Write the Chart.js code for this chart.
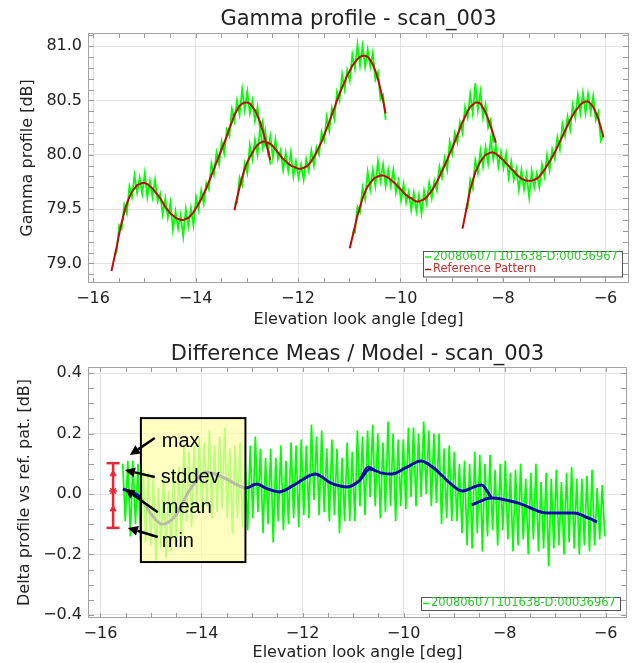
<!DOCTYPE html>
<html><head><meta charset="utf-8">
<script src="https://cdn.jsdelivr.net/npm/chart.js@4.4.1/dist/chart.umd.min.js"></script>
<style>
html,body{margin:0;padding:0;background:#fff;}
#w1{position:absolute;left:0;top:0;width:636px;height:330px;}
#w2{position:absolute;left:0;top:330px;width:636px;height:333px;}
canvas{display:block;}
</style></head><body>
<div id="w1"><canvas id="c1" width="636" height="330"></canvas></div>
<div id="w2"><canvas id="c2" width="636" height="333"></canvas></div>
<script>
// ---------------- DATA ----------------
const topTitle = 'Gamma profile - scan_003';
const botTitle = 'Difference Meas / Model - scan_003';
const xAxisTitle = 'Elevation look angle [deg]';
const topYTitle = 'Gamma profile [dB]';
const botYTitle = 'Delta profile vs ref. pat. [dB]';
const legendMeas = '20080607T101638-D:00036967';
const legendRef = 'Reference Pattern';

const xTicksDeg = [-16, -14, -12, -10, -8, -6];
const topYTicks = [79.0, 79.5, 80.0, 80.5, 81.0];
const botYTicks = [-0.4, -0.2, 0.0, 0.2, 0.4];

const sampleStep = 0.05;      // top-chart sample spacing [deg]
const measStartTop = [-15.59, -13.24, -10.94, -8.74];
const refStartTop  = [-15.64, -13.24, -10.99, -8.79];

const refPattern1 = [78.93,79.04,79.15,79.27,79.38,79.47,79.55,79.61,79.66,79.69,79.72,79.73,79.74,79.74,79.73,79.71,79.69,79.66,79.63,79.60,79.56,79.52,79.49,79.46,79.44,79.42,79.41,79.40,79.40,79.41,79.42,79.44,79.47,79.51,79.55,79.59,79.64,79.69,79.75,79.81,79.87,79.93,79.99,80.05,80.11,80.17,80.24,80.30,80.37,80.41,80.45,80.47,80.48,80.48,80.47,80.44,80.41,80.36,80.30,80.22,80.14,80.05,79.95];
const refPattern2 = [79.49,79.60,79.70,79.79,79.87,79.93,79.98,80.02,80.06,80.09,80.11,80.12,80.12,80.11,80.10,80.08,80.05,80.02,79.99,79.96,79.94,79.92,79.90,79.89,79.88,79.87,79.87,79.88,79.89,79.91,79.94,79.98,80.02,80.07,80.12,80.18,80.24,80.30,80.37,80.43,80.50,80.56,80.62,80.67,80.73,80.77,80.82,80.85,80.88,80.90,80.91,80.91,80.90,80.87,80.83,80.77,80.70,80.60,80.50,80.38];
const refPattern3 = [79.14,79.24,79.34,79.44,79.52,79.60,79.66,79.71,79.74,79.77,79.79,79.80,79.81,79.81,79.80,79.79,79.77,79.75,79.73,79.70,79.68,79.65,79.63,79.61,79.60,79.58,79.57,79.57,79.58,79.59,79.61,79.64,79.67,79.71,79.75,79.80,79.85,79.90,79.95,80.01,80.06,80.12,80.18,80.24,80.30,80.35,80.40,80.44,80.46,80.48,80.48,80.47,80.43,80.39,80.33,80.26,80.19,80.11];
const refPattern4 = [79.32,79.44,79.56,79.68,79.76,79.84,79.89,79.94,79.97,80.00,80.01,80.02,80.02,80.01,79.99,79.97,79.95,79.92,79.90,79.87,79.85,79.82,79.80,79.78,79.77,79.76,79.76,79.76,79.77,79.78,79.80,79.83,79.86,79.90,79.94,79.98,80.02,80.07,80.12,80.17,80.22,80.27,80.32,80.36,80.40,80.43,80.46,80.48,80.49,80.49,80.47,80.44,80.39,80.33,80.25,80.16];

const meas1 = [79.08,79.10,79.35,79.32,79.54,79.46,79.71,79.61,79.81,79.65,79.79,79.64,79.83,79.61,79.76,79.61,79.77,79.57,79.64,79.45,79.60,79.42,79.56,79.31,79.48,79.32,79.45,79.25,79.50,79.34,79.51,79.35,79.61,79.49,79.67,79.55,79.74,79.68,79.92,79.82,80.02,79.91,80.12,80.01,80.23,80.17,80.42,80.31,80.50,80.37,80.60,80.41,80.58,80.38,80.50,80.31,80.44,80.23,80.31,80.08,80.10,79.91];
const meas2 = [79.55,79.56,79.79,79.72,79.92,79.83,80.09,79.96,80.14,80.00,80.25,80.07,80.22,80.03,80.17,79.97,80.14,79.96,80.04,79.86,80.02,79.85,80.02,79.80,79.94,79.79,79.91,79.77,79.96,79.85,80.04,79.90,80.07,80.00,80.21,80.13,80.35,80.22,80.43,80.33,80.58,80.50,80.74,80.60,80.78,80.68,80.92,80.79,81.01,80.82,81.00,80.81,80.97,80.81,80.94,80.69,80.76,80.51,80.55,80.32];
const meas3 = [79.29,79.28,79.52,79.47,79.70,79.59,79.84,79.68,79.86,79.71,79.94,79.76,79.91,79.71,79.86,79.71,79.86,79.65,79.76,79.58,79.73,79.56,79.66,79.49,79.65,79.48,79.63,79.46,79.67,79.55,79.74,79.60,79.76,79.67,79.89,79.79,79.97,79.86,80.12,80.01,80.20,80.11,80.30,80.20,80.44,80.34,80.56,80.38,80.66,80.41,80.58,80.34,80.46,80.25,80.32,80.12,80.15];
const meas4 = [79.50,79.51,79.77,79.69,79.95,79.83,80.04,79.89,80.07,79.92,80.14,79.96,80.09,79.89,80.03,79.88,80.01,79.79,79.94,79.77,79.87,79.68,79.86,79.68,79.82,79.61,79.85,79.70,79.83,79.70,79.91,79.80,80.00,79.86,80.05,79.96,80.16,80.05,80.28,80.17,80.35,80.23,80.46,80.34,80.55,80.38,80.57,80.38,80.56,80.39,80.54,80.32,80.39,80.13,80.19];

// bottom chart: delta (measurement - reference)
const deltaStart = -15.56;
const deltaStep = 0.0505;
const deltaMeas = [
 0.10,-0.09,0.11,-0.14,0.11,-0.10,0.10,-0.16,0.08,-0.16,
 0.07,-0.17,0.06,-0.22,0.02,-0.18,0.06,-0.21,0.01,-0.19,
 0.08,-0.16,0.09,-0.15,0.16,-0.09,0.14,-0.11,0.16,-0.04,
 0.19,-0.06,0.17,-0.04,0.21,-0.08,0.16,-0.06,0.19,-0.05,
 0.22,-0.08,0.15,-0.13,0.16,-0.08,0.17,-0.11,0.11,-0.12,
 0.16,-0.08,0.19,-0.06,0.15,-0.13,0.12,-0.10,0.15,-0.16,
 0.12,-0.09,0.16,-0.12,0.11,-0.10,0.17,-0.08,0.16,-0.11,
 0.18,-0.07,0.16,-0.08,0.23,-0.02,0.19,-0.07,0.21,-0.06,
 0.15,-0.09,0.18,-0.07,0.15,-0.13,0.12,-0.09,0.17,-0.09,
 0.14,-0.09,0.21,-0.04,0.19,-0.07,0.21,-0.01,0.23,-0.04,
 0.20,-0.08,0.17,-0.06,0.24,-0.04,0.20,-0.09,0.18,-0.04,
 0.18,-0.05,0.22,-0.01,0.22,-0.04,0.20,-0.01,0.24,0.00,
 0.21,-0.04,0.20,-0.03,0.20,-0.10,0.15,-0.08,0.16,-0.09,
 0.14,-0.09,0.10,-0.13,0.11,-0.17,0.10,-0.18,0.14,-0.13,
 0.13,-0.19,0.10,-0.14,0.13,-0.12,0.08,-0.17,0.10,-0.12,
 0.11,-0.15,0.07,-0.19,0.08,-0.17,0.10,-0.15,0.05,-0.20,
 0.07,-0.15,0.10,-0.19,0.04,-0.18,0.07,-0.24,0.05,-0.18,
 0.08,-0.17,0.04,-0.20,0.07,-0.16,0.09,-0.18,0.05,-0.20,
 0.05,-0.17,0.06,-0.19,0.08,-0.17,0.02,-0.15,0.03,-0.14];

// smoothed delta (blue), per beam overlap
const smoothAX = [-15.556,-15.221,-15.024,-14.787,-14.531,-14.235,-13.900,-13.544,-13.110,-12.913,-12.696,-12.460,-12.164,-11.750,-11.434,-11.118,-10.882,-10.665,-10.448,-10.231,-9.935,-9.659,-9.402,-9.107,-8.830,-8.613,-8.456,-8.259];
const smoothAY = [0.017,-0.010,-0.060,-0.100,-0.075,0.013,0.073,0.053,0.020,0.033,0.017,0.007,0.030,0.066,0.036,0.023,0.043,0.083,0.070,0.066,0.089,0.109,0.086,0.040,0.010,0.023,0.030,-0.013];
const smoothBX = [-8.652,-8.259,-7.727,-7.155,-6.623,-6.345,-6.168];
const smoothBY = [-0.036,-0.013,-0.030,-0.063,-0.063,-0.079,-0.093];
const smoothCX = [-10.86,-10.70,-10.52];
const smoothCY = [0.052,0.090,0.074];

// statistics marker (left of the data)
const statX = -15.75;
const statMax = 0.102, statMin = -0.112;
const statStd = [0.066, -0.050];
const statMean = 0.010;

// annotation (data coordinates)
const annoBox = {x0: -15.20, x1: -13.13, y0: 0.251, y1: -0.225};
const annoLabels = ['max', 'stddev', 'mean', 'min'];
const annoLabelX = [-14.787, -14.807, -14.787, -14.787];
const annoLabelY = [0.155, 0.036, -0.063, -0.175];
const arrowTailX = [-14.925, -14.925, -14.866, -14.866];
const arrowTailY = [0.185, 0.056, -0.060, -0.142];
const arrowHeadX = [-15.418, -15.517, -15.517, -15.458];
const arrowHeadY = [0.129, 0.079, 0.017, -0.112];

// ---------------- HELPERS ----------------
function grid(start, step, arr) {
  return arr.map((y, i) => ({x: Math.round((start + i * step) * 10000) / 10000, y: y}));
}
function pairs(xs, ys) { return xs.map((x, i) => ({x: x, y: ys[i]})); }
const minus = s => s.replace('-', '\u2212');
const FONT = "'DejaVu Sans', sans-serif";
const GREEN = '#00ff00', RED = '#c00a0a', BLUE = '#0a0aa8';

function lineDS(data, color, width, order, extra) {
  return Object.assign({data: data, borderColor: color, backgroundColor: color, borderWidth: width,
    pointRadius: 0, fill: false, tension: 0, order: order, parsing: true}, extra || {});
}

function drawArrow(ctx, x0, y0, x1, y1) {
  const ang = Math.atan2(y1 - y0, x1 - x0), L = 10, W = 5;
  const bx = x1 - L * Math.cos(ang), by = y1 - L * Math.sin(ang);
  ctx.beginPath(); ctx.moveTo(x0, y0); ctx.lineTo(bx, by); ctx.stroke();
  ctx.beginPath();
  ctx.moveTo(x1, y1);
  ctx.lineTo(bx + W * Math.sin(ang), by - W * Math.cos(ang));
  ctx.lineTo(bx - W * Math.sin(ang), by + W * Math.cos(ang));
  ctx.closePath(); ctx.fill();
}

function decoPlugin(o) {
  return {
    id: 'deco',
    afterDraw(chart) {
      const ctx = chart.ctx, a = chart.chartArea, xs = chart.scales.x, ys = chart.scales.y;
      ctx.save();
      // annotation (bottom chart)
      if (o.anno) {
        const L = xs.getPixelForValue(annoBox.x0), R = xs.getPixelForValue(annoBox.x1);
        const T = ys.getPixelForValue(annoBox.y0), B = ys.getPixelForValue(annoBox.y1);
        ctx.fillStyle = 'rgba(255,255,170,0.72)';
        ctx.fillRect(L, T, R - L, B - T);
        ctx.strokeStyle = '#000'; ctx.lineWidth = 2;
        ctx.strokeRect(L, T, R - L, B - T);
        ctx.fillStyle = '#000'; ctx.lineWidth = 2.5;
        for (let i = 0; i < annoLabels.length; i++) {
          drawArrow(ctx, xs.getPixelForValue(arrowTailX[i]), ys.getPixelForValue(arrowTailY[i]),
            xs.getPixelForValue(arrowHeadX[i]), ys.getPixelForValue(arrowHeadY[i]));
        }
        ctx.font = "20px 'Liberation Sans', Arial, sans-serif";
        ctx.textAlign = 'left'; ctx.textBaseline = 'alphabetic';
        for (let i = 0; i < annoLabels.length; i++) {
          ctx.fillText(annoLabels[i], xs.getPixelForValue(annoLabelX[i]), ys.getPixelForValue(annoLabelY[i]));
        }
      }
      // minor ticks
      ctx.strokeStyle = '#9c9c9c'; ctx.lineWidth = 1;
      ctx.beginPath();
      for (let k = -40; k <= 0; k++) {
        const v = k * 0.5;
        if (v < xs.min || v > xs.max) continue;
        const p = Math.round(xs.getPixelForValue(v)) + 0.5;
        ctx.moveTo(p, a.top); ctx.lineTo(p, a.top + 5);
        ctx.moveTo(p, a.bottom); ctx.lineTo(p, a.bottom - 5);
      }
      const n0 = Math.ceil(ys.min / o.yMinor - 1e-6), n1 = Math.floor(ys.max / o.yMinor + 1e-6);
      for (let k = n0; k <= n1; k++) {
        const p = Math.round(ys.getPixelForValue(k * o.yMinor)) + 0.5;
        ctx.moveTo(a.left, p); ctx.lineTo(a.left + 6, p);
        ctx.moveTo(a.right, p); ctx.lineTo(a.right - 6, p);
      }
      ctx.stroke();
      // frame
      ctx.strokeStyle = '#a4a4a4';
      ctx.strokeRect(Math.round(a.left) + 0.5, Math.round(a.top) + 0.5, Math.round(a.right - a.left) - 1, Math.round(a.bottom - a.top) - 1);
      // titles
      ctx.fillStyle = '#222';
      ctx.textAlign = 'center'; ctx.textBaseline = 'alphabetic';
      ctx.font = '21px ' + FONT;
      ctx.fillText(o.title, (a.left + a.right) / 2, a.top - o.titleGap);
      ctx.font = '16px ' + FONT;
      ctx.fillText(xAxisTitle, (a.left + a.right) / 2, a.bottom + o.xTitleGap);
      ctx.save();
      ctx.translate(o.yTitleX, (a.top + a.bottom) / 2);
      ctx.rotate(-Math.PI / 2);
      ctx.textBaseline = 'middle';
      ctx.fillText(o.yTitle, 0, 0);
      ctx.restore();
      // legend
      const lw = 199, lh = o.legend.length * 12.5 + 0.5;
      const lx = a.right - 7 - lw, ly = a.bottom - o.legendGap - lh;
      ctx.fillStyle = '#fff';
      ctx.fillRect(lx, ly, lw, lh);
      ctx.strokeStyle = '#555'; ctx.lineWidth = 1;
      ctx.strokeRect(Math.round(lx) + 0.5, Math.round(ly) + 0.5, lw, lh);
      ctx.font = '11.5px ' + FONT;
      ctx.textAlign = 'left'; ctx.textBaseline = 'middle';
      o.legend.forEach((it, i) => {
        const yy = ly + 6.5 + i * 12.5;
        ctx.strokeStyle = it.color; ctx.lineWidth = 1.5;
        ctx.beginPath(); ctx.moveTo(lx + 2, yy); ctx.lineTo(lx + 8, yy); ctx.stroke();
        ctx.fillStyle = it.text;
        ctx.fillText(it.label, lx + 10, yy);
      });
      ctx.restore();
    }
  };
}

function baseOptions(o) {
  return {
    responsive: false, animation: false, devicePixelRatio: 1,
    layout: {padding: {left: 0, right: 7, top: o.top, bottom: 0}},
    plugins: {legend: {display: false}, title: {display: false}, tooltip: {enabled: false}},
    scales: {
      x: {
        type: 'linear', min: o.xmin, max: o.xmax,
        afterFit: s => { s.height = o.xh; },
        afterBuildTicks: s => { s.ticks = xTicksDeg.map(v => ({value: v})); },
        grid: {color: '#e3e3e3', lineWidth: 1, drawTicks: false},
        border: {display: false},
        ticks: {padding: 6, color: '#222', font: {family: FONT, size: 16}, maxRotation: 0,
          callback: v => minus(String(v))}
      },
      y: {
        type: 'linear', min: o.ymin, max: o.ymax,
        afterFit: s => { s.width = 88; },
        afterBuildTicks: s => { s.ticks = o.yticks.map(v => ({value: v})); },
        grid: {color: '#e3e3e3', lineWidth: 1, drawTicks: false},
        border: {display: false},
        ticks: {padding: 6, color: '#222', font: {family: FONT, size: 16},
          callback: v => minus(Number(v).toFixed(1))}
      }
    }
  };
}

// ---------------- TOP CHART ----------------
const refs = [refPattern1, refPattern2, refPattern3, refPattern4];
const meas = [meas1, meas2, meas3, meas4];
const topDatasets = [];
refs.forEach((r, i) => topDatasets.push(lineDS(grid(refStartTop[i], sampleStep, r), RED, 2, 0)));
meas.forEach((m, i) => topDatasets.push(lineDS(grid(measStartTop[i], sampleStep, m), GREEN, 1.8, 1)));

new Chart(document.getElementById('c1'), {
  type: 'line',
  data: {datasets: topDatasets},
  options: baseOptions({top: 33, xh: 47, xmin: -16.098, xmax: -5.541, ymin: 78.82, ymax: 81.12, yticks: topYTicks}),
  plugins: [decoPlugin({title: topTitle, titleGap: 8, xTitleGap: 41, yTitle: topYTitle, yTitleX: 28, yMinor: 0.1,
    legendGap: 7, legend: [{label: legendMeas, color: GREEN, text: '#2fc82f'}, {label: legendRef, color: RED, text: '#c83030'}]})]
});

// ---------------- BOTTOM CHART ----------------
const botDatasets = [
  lineDS([{x: statX, y: statMax}, {x: statX, y: statMin}], 'rgb(228,40,52)', 2.5, 0,
    {pointStyle: 'line', pointRadius: 6.5, pointBorderWidth: 2.5}),
  {type: 'scatter', data: statStd.map(v => ({x: statX, y: v})), pointStyle: 'triangle', pointRadius: 3.5,
    backgroundColor: 'rgb(228,40,52)', borderColor: 'rgb(228,40,52)', borderWidth: 1, order: 0},
  {type: 'scatter', data: [{x: statX, y: statMean}], pointStyle: 'star', pointRadius: 4,
    backgroundColor: 'rgb(228,40,52)', borderColor: 'rgb(228,40,52)', borderWidth: 1.5, order: 0},
  lineDS(pairs(smoothAX, smoothAY), BLUE, 3, 1, {cubicInterpolationMode: 'monotone'}),
  lineDS(pairs(smoothBX, smoothBY), BLUE, 3, 1, {cubicInterpolationMode: 'monotone'}),
  lineDS(pairs(smoothCX, smoothCY), BLUE, 2, 1, {cubicInterpolationMode: 'monotone'}),
  lineDS(grid(deltaStart, deltaStep, deltaMeas), GREEN, 1.7, 2)
];

new Chart(document.getElementById('c2'), {
  type: 'line',
  data: {datasets: botDatasets},
  options: baseOptions({top: 37, xh: 45, xmin: -16.247, xmax: -5.576, ymin: -0.41, ymax: 0.42, yticks: botYTicks}),
  plugins: [decoPlugin({title: botTitle, titleGap: 7, xTitleGap: 39, yTitle: botYTitle, yTitleX: 25, yMinor: 0.05,
    legendGap: 8, anno: true, legend: [{label: legendMeas, color: GREEN, text: '#2fc82f'}]})]
});
</script>
</body></html>
